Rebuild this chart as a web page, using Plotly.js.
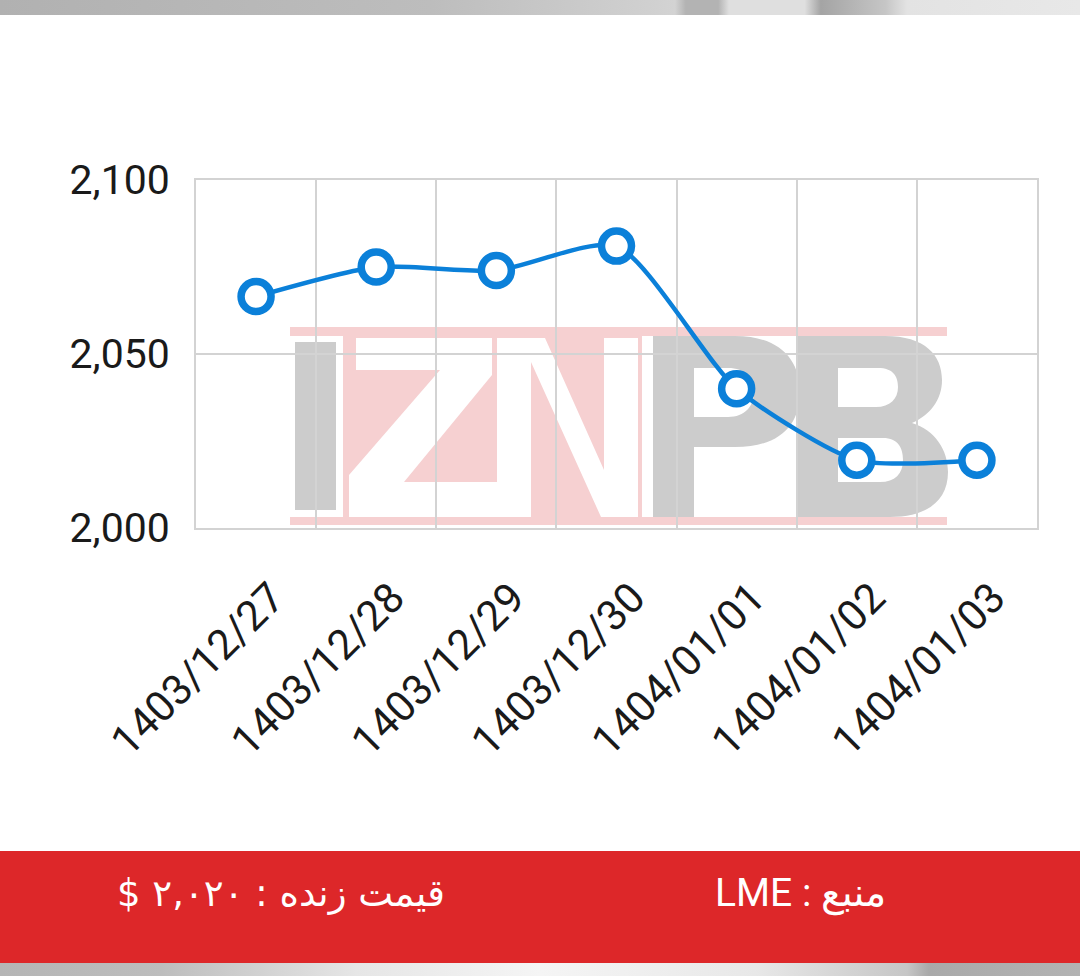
<!DOCTYPE html>
<html>
<head>
<meta charset="utf-8">
<script src="https://cdn.plot.ly/plotly-3.0.1.min.js"></script>
<style>html,body{margin:0;padding:0;background:#fff;}#chart{width:1080px;height:976px;}</style>
</head>
<body>
<div id="chart"></div>
<script>
// ---- data ----
const dates = ["1403/12/27","1403/12/28","1403/12/29","1403/12/30","1404/01/01","1404/01/02","1404/01/03"];
const prices = [2066.5, 2075, 2074, 2081, 2040, 2019.5, 2019.5];
const yTicks = [2000, 2050, 2100];
const sourceText = "LME : منبع";
const liveText = "$ ۲,۰۲۰ : قیمت زنده";

// ---- layout helpers (pixel -> paper) ----
const W = 1080, H = 976;
const M = {l: 196, r: 43, t: 180, b: 448};
const PW = W - M.l - M.r, PH = H - M.t - M.b;
const px = x => (x - M.l) / PW;
const py = y => (H - M.b - y) / PH;

function svgURI(svg){ return "data:image/svg+xml;charset=utf-8," + encodeURIComponent(svg); }

// watermark (decoration) drawn as an SVG image
const wm = `<svg xmlns="http://www.w3.org/2000/svg" width="658" height="199" viewBox="290 327 658 199">
<g fill="#f6d0d1">
<rect x="290" y="327" width="657" height="9"/>
<rect x="290" y="517" width="657" height="8"/>
<rect x="343" y="336" width="299" height="181"/>
</g>
<g fill="#ffffff">
<path d="M356,338 H492 V375 L404,482 H497 V517 H349 V475 L440,370 H356 Z"/>
<path d="M497,338 H545 L604,470 V338 H638 V517 H601 L531,362 V517 H497 Z"/>
</g>
<g fill="#cccccc" fill-rule="evenodd">
<rect x="295" y="342" width="41" height="168"/>
<path d="M653,336 H735 C780,336 800,360 800,392 C800,425 780,447 735,447 H694 V517 H653 Z M694,368 H728 C745,368 754,378 754,392 C754,406 745,417 728,417 H694 Z"/>
<path d="M798,336 H885 C925,336 942,355 942,380 C942,400 930,415 912,423 C935,430 948,450 948,472 C948,500 928,517 890,517 H798 Z M838,368 H878 C893,368 898,376 898,387 C898,399 890,407 876,407 H838 Z M838,438 H883 C898,438 903,448 903,460 C903,474 895,482 880,482 H838 Z"/>
</g>
</svg>`;

const topStrip = `<svg xmlns="http://www.w3.org/2000/svg" width="1080" height="15" preserveAspectRatio="none">
<defs><linearGradient id="g" x1="0" x2="1" y1="0" y2="0">
<stop offset="0" stop-color="#b1b1b1"/>
<stop offset="0.40" stop-color="#bdbdbd"/>
<stop offset="0.60" stop-color="#d0d0d0"/>
<stop offset="0.625" stop-color="#d3d3d3"/>
<stop offset="0.635" stop-color="#b3b3b3"/>
<stop offset="0.665" stop-color="#b3b3b3"/>
<stop offset="0.675" stop-color="#dfdfdf"/>
<stop offset="0.745" stop-color="#dfdfdf"/>
<stop offset="0.76" stop-color="#a4a4a4"/>
<stop offset="0.82" stop-color="#c6c6c6"/>
<stop offset="0.84" stop-color="#e3e3e3"/>
<stop offset="1" stop-color="#e8e8e8"/>
</linearGradient></defs>
<rect width="1080" height="15" fill="url(#g)"/></svg>`;

const botStrip = `<svg xmlns="http://www.w3.org/2000/svg" width="1080" height="14" preserveAspectRatio="none">
<defs><linearGradient id="g" x1="0" x2="1" y1="0" y2="0">
<stop offset="0" stop-color="#b5b5b5"/>
<stop offset="0.15" stop-color="#bdbdbd"/>
<stop offset="0.33" stop-color="#e6e6e6"/>
<stop offset="0.5" stop-color="#f5f5f5"/>
<stop offset="0.7" stop-color="#e8e8e8"/>
<stop offset="0.84" stop-color="#c6c6c6"/>
<stop offset="0.86" stop-color="#a9a9a9"/>
<stop offset="1" stop-color="#b3b3b3"/>
</linearGradient></defs>
<rect width="1080" height="14" fill="url(#g)"/></svg>`;

const idx = dates.map((d, i) => i);
const bandEdges = dates.map((d, i) => i - 0.5).concat([dates.length - 0.5]);

const trace = {
  x: idx, y: prices, type: "scatter", mode: "lines+markers",
  line: {color: "#0b80d9", width: 4.5, shape: "spline", smoothing: 0.65},
  marker: {symbol: "circle", size: 30, color: "#ffffff", line: {color: "#0b80d9", width: 7.5}},
  hoverinfo: "skip", cliponaxis: false
};

const layout = {
  width: W, height: H,
  margin: M,
  paper_bgcolor: "#ffffff",
  plot_bgcolor: "rgba(0,0,0,0)",
  showlegend: false,
  font: {family: "Roboto, 'DejaVu Sans', sans-serif", color: "#1a1a1a"},
  xaxis: {
    range: [-0.5, dates.length - 0.5], tickmode: "array", tickvals: idx, ticktext: dates,
    tickangle: -45, tickfont: {size: 42, color: "#1a1a1a"}, showgrid: false, zeroline: false,
    ticks: "", ticklabelstandoff: 26, ticklabelshift: 16,
    showline: true, linecolor: "#d3d3d3", linewidth: 2, mirror: true,
    minor: {tickmode: "array", tickvals: bandEdges, showgrid: true, gridcolor: "#d3d3d3", gridwidth: 2, ticks: ""},
    fixedrange: true
  },
  yaxis: {
    range: [yTicks[0], yTicks[yTicks.length - 1]], tickmode: "array", tickvals: yTicks,
    tickformat: ",d", tickfont: {size: 41, color: "#1a1a1a"}, showgrid: true, gridcolor: "#d3d3d3", gridwidth: 2,
    zeroline: false, ticks: "", ticklabelstandoff: 16, showline: true, linecolor: "#d3d3d3", linewidth: 2, mirror: true,
    fixedrange: true
  },
  images: [
    {source: svgURI(wm), xref: "paper", yref: "paper", x: px(290), y: py(327), sizex: 658 / PW, sizey: 199 / PH,
     xanchor: "left", yanchor: "top", sizing: "stretch", layer: "below"},
    {source: svgURI(topStrip), xref: "paper", yref: "paper", x: px(0), y: py(0), sizex: W / PW, sizey: 15 / PH,
     xanchor: "left", yanchor: "top", sizing: "stretch", layer: "above"},
    {source: svgURI(botStrip), xref: "paper", yref: "paper", x: px(0), y: py(962), sizex: W / PW, sizey: 14 / PH,
     xanchor: "left", yanchor: "top", sizing: "stretch", layer: "above"}
  ],
  shapes: [
    {type: "rect", xref: "paper", yref: "paper", x0: px(0), x1: px(W), y0: py(851), y1: py(963),
     fillcolor: "#dd2729", line: {width: 0}, layer: "above"}
  ],
  annotations: [
    {text: sourceText, xref: "paper", yref: "paper", x: px(800), y: py(893), xanchor: "center", yanchor: "middle",
     showarrow: false, font: {size: 39, color: "#ffffff", family: "Roboto, 'DejaVu Sans', sans-serif"}},
    {text: liveText, xref: "paper", yref: "paper", x: px(281), y: py(893), xanchor: "center", yanchor: "middle",
     showarrow: false, font: {size: 37, color: "#ffffff", family: "'DejaVu Sans', sans-serif"}}
  ]
};

Plotly.newPlot("chart", [trace], layout, {displayModeBar: false, staticPlot: true});
</script>
</body>
</html>
